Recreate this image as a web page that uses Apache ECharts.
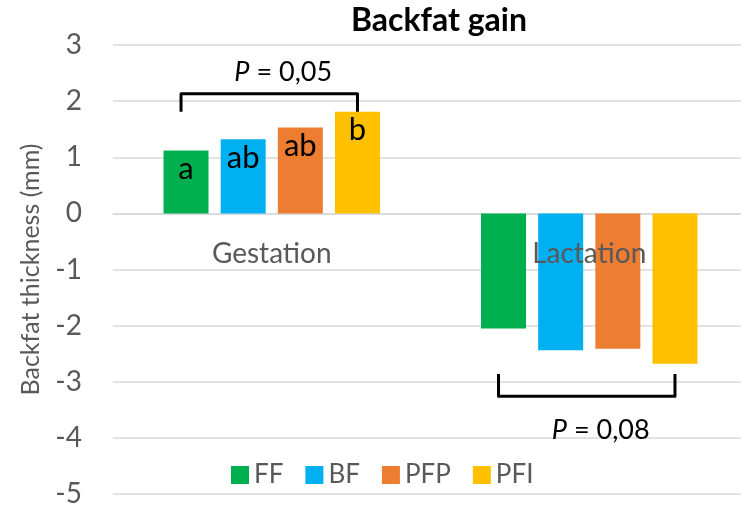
<!DOCTYPE html>
<html>
<head>
<meta charset="utf-8">
<script src="https://cdn.jsdelivr.net/npm/echarts@6/dist/echarts.min.js"></script>
<style>
  html, body { margin: 0; padding: 0; background: #fff; }
  #main { width: 741px; height: 505px; }
</style>
</head>
<body>
<div id="main"></div>
<script>
const periods = ["Gestation", "Lactation"];
const groups = ["FF", "BF", "PFP", "PFI"];
const colors = ["#00B050", "#00B0F0", "#ED7D31", "#FFC000"];
// backfat change (mm) per group: [gestation, lactation]
const ffValues = [1.12, -2.05];
const bfValues = [1.32, -2.44];
const pfpValues = [1.53, -2.41];
const pfiValues = [1.81, -2.68];
const gestationLetters = ["a", "ab", "ab", "b"];
// bracket: [period index, line level, leg end level, text level, text]
const brackets = [
  [0, 2.13, 1.81, 2.51, "0,05"],
  [1, -3.26, -2.86, -3.86, "0,08"]
];

const font = "Lato, 'Open Sans', sans-serif";
const allValues = [ffValues, bfValues, pfpValues, pfiValues];

const barSeries = groups.map(function (name, i) {
  return {
    name: name,
    type: "bar",
    barWidth: 45,
    barGap: "27%",
    itemStyle: { color: colors[i] },
    data: allValues[i].map(function (v, j) {
      if (j === 0) {
        return {
          value: v,
          label: {
            show: true,
            position: "insideTop",
            distance: 3,
            formatter: gestationLetters[i],
            color: "#000",
            fontSize: 31,
            fontFamily: font
          }
        };
      }
      return { value: v };
    })
  };
});

// category names sit just under the zero line, over the bars
const periodLabelSeries = {
  type: "custom",
  silent: true,
  z: 4,
  data: periods.map(function (p, i) { return [i, 0]; }),
  renderItem: function (params, api) {
    const pt = api.coord([api.value(0), api.value(1)]);
    return {
      type: "text",
      style: {
        text: periods[params.dataIndex],
        x: pt[0],
        y: pt[1] + 41,
        align: "center",
        verticalAlign: "middle",
        fill: "#595959",
        font: "28px " + font
      }
    };
  }
};

const bracketSeries = {
  type: "custom",
  silent: true,
  z: 5,
  data: brackets,
  renderItem: function (params, api) {
    const cat = api.value(0);
    const line = api.coord([cat, api.value(1)]);
    const leg = api.coord([cat, api.value(2)]);
    const txt = api.coord([cat, api.value(3)]);
    const band = api.size([1, 0])[0];
    const half = band * 0.27;
    const x0 = line[0] - half - 5;
    const x1 = line[0] + half;
    return {
      type: "group",
      children: [
        {
          type: "polyline",
          shape: { points: [[x0, leg[1]], [x0, line[1]], [x1, line[1]], [x1, leg[1]]] },
          style: { stroke: "#000", lineWidth: 3, fill: null, lineJoin: "round" }
        },
        {
          type: "text",
          style: {
            text: "{i|P} = " + brackets[params.dataIndex][4],
            x: (x0 + x1) / 2 + 14,
            y: txt[1],
            align: "center",
            verticalAlign: "middle",
            fill: "#000",
            font: "27px " + font,
            rich: {
              i: { fontStyle: "italic", fontSize: 27, fontFamily: font, fill: "#000" }
            }
          }
        }
      ]
    };
  }
};

const option = {
  animation: false,
  title: {
    text: "Backfat gain",
    left: 346,
    top: 0,
    textStyle: { fontSize: 32, fontWeight: "bold", color: "#000", fontFamily: font }
  },
  legend: {
    data: groups,
    left: 226,
    bottom: 12,
    itemWidth: 18,
    itemHeight: 18,
    itemGap: 22,
    icon: "rect",
    textStyle: { fontSize: 26, color: "#595959", fontFamily: font }
  },
  grid: { left: 113, right: -7, top: 45, bottom: 11, containLabel: false, outerBoundsMode: "none" },
  xAxis: {
    type: "category",
    data: periods,
    axisLine: { show: true, onZero: true, lineStyle: { color: "#D9D9D9", width: 1.5 } },
    axisTick: { show: false },
    axisLabel: { show: false }
  },
  yAxis: {
    type: "value",
    min: -5,
    max: 3,
    interval: 1,
    name: "Backfat thickness (mm)",
    nameLocation: "middle",
    nameGap: 70,
    nameTextStyle: { fontSize: 25, color: "#595959", fontFamily: font },
    axisLine: { show: false },
    axisTick: { show: false },
    axisLabel: { margin: 31, fontSize: 28, color: "#595959", fontFamily: font },
    splitLine: { lineStyle: { color: "#D9D9D9", width: 1.5 } }
  },
  series: barSeries.concat([periodLabelSeries, bracketSeries])
};

const chart = echarts.init(document.getElementById("main"));
chart.setOption(option);
</script>
</body>
</html>
